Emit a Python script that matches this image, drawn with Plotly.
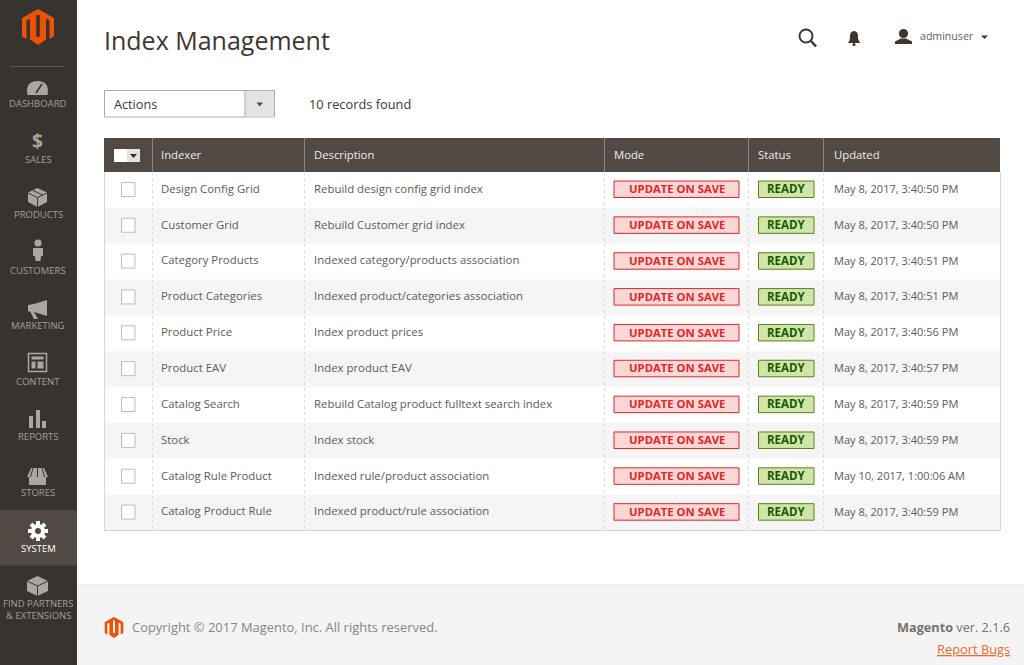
import plotly.graph_objects as go

FONT = "Open Sans"

# table contents
indexers = ["Design Config Grid", "Customer Grid", "Category Products", "Product Categories", "Product Price",
            "Product EAV", "Catalog Search", "Stock", "Catalog Rule Product", "Catalog Product Rule"]
descriptions = ["Rebuild design config grid index", "Rebuild Customer grid index",
                "Indexed category/products association", "Indexed product/categories association",
                "Index product prices", "Index product EAV", "Rebuild Catalog product fulltext search index",
                "Index stock", "Indexed rule/product association", "Indexed product/rule association"]
modes = ["UPDATE ON SAVE"] * 10
statuses = ["READY"] * 10
updated = ["May 8, 2017, 3:40:50 PM", "May 8, 2017, 3:40:50 PM", "May 8, 2017, 3:40:51 PM", "May 8, 2017, 3:40:51 PM",
           "May 8, 2017, 3:40:56 PM", "May 8, 2017, 3:40:57 PM", "May 8, 2017, 3:40:59 PM", "May 8, 2017, 3:40:59 PM",
           "May 10, 2017, 1:00:06 AM", "May 8, 2017, 3:40:59 PM"]
headers = ["Indexer", "Description", "Mode", "Status", "Updated"]
nav_labels = ["DASHBOARD", "SALES", "PRODUCTS", "CUSTOMERS", "MARKETING", "CONTENT", "REPORTS", "STORES", "SYSTEM"]

# page geometry, in screen pixels
W, H = 1024, 665
COLS = [104, 152, 304, 604, 748, 823, 1000]
HEAD_TOP, HEAD_BOTTOM = 138, 172
ROW_H = 35.85
SIDE = "#373330"
ACTIVE = "#514943"
ICON = "#aaa6a0"
NAV_TEXT = "#a39f9a"
ORANGE = "#eb5202"

shapes = []
annotations = []


def rect(x0, y0, x1, y1, fill=None, line=None, width=1, dash=None):
    shapes.append(dict(type="rect", x0=x0, y0=y0, x1=x1, y1=y1, fillcolor=fill or "rgba(0,0,0,0)",
                       line=dict(color=line or "rgba(0,0,0,0)", width=width if line else 0, dash=dash)))


def seg(x0, y0, x1, y1, color, width=1, dash=None):
    shapes.append(dict(type="line", x0=x0, y0=y0, x1=x1, y1=y1, line=dict(color=color, width=width, dash=dash)))


def path(d, fill, line=None, width=0):
    shapes.append(dict(type="path", path=d, fillcolor=fill,
                       line=dict(color=line or "rgba(0,0,0,0)", width=width)))


def circle(cx, cy, r, fill=None, line=None, width=0):
    shapes.append(dict(type="circle", x0=cx - r, y0=cy - r, x1=cx + r, y1=cy + r, fillcolor=fill or "rgba(0,0,0,0)",
                       line=dict(color=line or "rgba(0,0,0,0)", width=width)))


def logo(cx, cy, s, bg):
    # outer hexagon with slots cut by drawing over it in the background colour
    def p(pts):
        return "M" + " L".join(f"{cx + a * s:.1f} {cy + b * s:.1f}" for a, b in pts) + " Z"
    path(p([(0, -18), (16, -9), (16, 9.5), (11.5, 12), (11.5, -6.5), (8, -8.5), (8, 12.5), (0, 18), (-8, 12.5),
            (-8, -8.5), (-11.5, -6.5), (-11.5, 12), (-16, 9.5), (-16, -9)]), ORANGE)
    path(p([(-1.8, -12), (1.8, -12), (1.8, 9), (0, 10.5), (-1.8, 9)]), bg)


def text(x, y, label, size, color, anchor="left", bold=False):
    annotations.append(dict(x=x, y=y, text=label, xref="x", yref="y", showarrow=False, xanchor=anchor,
                            yanchor="middle", borderpad=0, borderwidth=0,
                            font=dict(family=FONT, size=size, color=color, weight=700 if bold else 400)))


# background panels
rect(0, 0, 77, H, SIDE)
rect(77, 585, W, H, "#f4f4f4")
seg(77, 585, W, 585, "#e3e3e3")
rect(0, 510, 77, 565.5, ACTIVE)
seg(10, 66.5, 64, 66.5, "#5c5650")
logo(38, 27, 1, SIDE)
logo(114, 627.5, 0.58, "#f4f4f4")

# sidebar icons
path("M27.5 95 Q25 81 37.5 81 Q50 81 47.5 95 Z", ICON)
seg(36, 93, 42, 84, SIDE, 1.5)
path("M37.5 188 L47 192.5 L47 202 L37.5 207 L28 202 L28 192.5 Z", ICON)
seg(28, 193, 37.5, 197.5, SIDE)
seg(47, 193, 37.5, 197.5, SIDE)
seg(37.5, 197.5, 37.5, 207, SIDE)
seg(33, 190.5, 42.5, 195, SIDE)
circle(38, 243, 3.6, ICON)
path("M33 248 L43 248 L43 256 L41 256 L40.5 261 L35.5 261 L35 256 L33 256 Z", ICON)
path("M34 304 L47 300 L47 316 L34 312 L38 319 L34 319 L30.5 312 L28 311 L28 305 Z", ICON)
rect(28.5, 353.5, 46.5, 371.5, None, ICON, 1.5)
rect(31.5, 356.5, 43.5, 359.5, ICON)
rect(31.5, 361.5, 35.5, 368.5, ICON)
rect(37.5, 361.5, 43.5, 368.5, ICON)
rect(29, 416, 33, 428, ICON)
rect(36, 410, 40, 428, ICON)
rect(42, 421, 46, 428, ICON)
path("M31 468 L44 468 L48 477 L27 477 Z", ICON)
seg(33, 468, 30.5, 477, SIDE)
seg(37.5, 468, 37.5, 477, SIDE)
seg(42, 468, 44.5, 477, SIDE)
rect(29, 477, 46, 485, ICON)
path("M37.5 576 L48 581 L48 591 L37.5 596 L27 591 L27 581 Z", ICON)
path("M27 581 L37.5 586 L48 581", "rgba(0,0,0,0)", SIDE, 1)
seg(37.5, 586, 37.5, 596, SIDE)
for a, b, c, d in [(38, 521, 38, 541), (28, 531, 48, 531), (31, 524, 45, 538), (45, 524, 31, 538)]:
    seg(a, b, c, d, "#ffffff", 4)
circle(38, 531, 7, "#ffffff")
circle(38, 531, 3, ACTIVE)

# top right icons
circle(806, 36, 6.5, None, "#41362f", 2)
seg(811, 41, 816, 46.5, "#41362f", 2.5)
path("M848 43 Q850.5 40 850 36 Q850 31.5 854 31 Q858 31.5 858 36 Q857.5 40 860.5 43 Z", "#41362f")
circle(854, 44.5, 1.6, "#41362f")
circle(903.5, 33.5, 4.6, "#41362f")
path("M895 44 L895 41.5 L901 38.5 L906 38.5 L912 41.5 L912 44 Z", "#41362f")
path("M981 35.5 L988 35.5 L984.5 39 Z", "#41362f")

# actions dropdown
rect(104.5, 90.5, 274.5, 117, "#ffffff", "#adadad")
rect(245, 91, 274, 116.5, "#e3e3e3")
seg(245, 90.5, 245, 117, "#adadad")
path("M256.5 102.5 L263 102.5 L259.7 106.5 Z", "#514943")

# table header and rows
rect(COLS[0], HEAD_TOP, COLS[-1], HEAD_BOTTOM, ACTIVE)
for x in COLS[1:-1]:
    seg(x + 0.5, HEAD_TOP, x + 0.5, HEAD_BOTTOM, "#8a837e")
rect(114, 149, 127, 162, "#ffffff")
rect(127, 149, 140, 162, "#e3e3e3")
path("M130 154 L137 154 L133.5 158 Z", "#303030")

row_y = [HEAD_BOTTOM + ROW_H * (i + 0.5) for i in range(len(indexers))]
table_bottom = HEAD_BOTTOM + ROW_H * len(indexers)
for i, y in enumerate(row_y):
    if i % 2:
        rect(COLS[0], y - ROW_H / 2, COLS[-1], y + ROW_H / 2, "#f5f5f5")
for x in COLS[1:-1]:
    seg(x + 0.5, HEAD_BOTTOM, x + 0.5, table_bottom, "#dcdcdc", 1, "3px,3px")
seg(104.5, HEAD_BOTTOM, 104.5, table_bottom, "#d6d6d6")
seg(1000.5, HEAD_BOTTOM, 1000.5, table_bottom, "#d6d6d6")
seg(104, table_bottom, 1000, table_bottom, "#d6d6d6")
for y in row_y:
    rect(121.5, y - 7.5, 135, y + 6.5, "#ffffff", "#bdbdbd")
    rect(614, y - 8.9, 739, y + 7.6, "#fad7d7", "#e22626")
    rect(758.5, y - 8.9, 814, y + 7.6, "#d0e5a9", "#5b8116")

# texts
nav_y = [103.5, 159.5, 214.5, 270.5, 325.5, 381.5, 436.5, 492.5, 548.5]
for label, y in zip(nav_labels, nav_y):
    text(38, y, label, 9.5, "#ffffff" if label == "SYSTEM" else NAV_TEXT, "center")
text(38, 603.5, "FIND PARTNERS", 9.5, NAV_TEXT, "center")
text(38, 615.5, "&amp; EXTENSIONS", 9.5, NAV_TEXT, "center")
text(37.5, 140.5, "$", 19, ICON, "center", True)

text(104, 40, "Index Management", 25, "#41362f")
text(920, 35.5, "adminuser", 10.6, "#676056")
text(114, 103.5, "Actions", 12.7, "#41362f")
text(309, 103.5, "10 records found", 12.8, "#41362f")
for label, x in zip(headers, [161, 314, 614, 758, 834]):
    text(x, 154.3, label, 11.3, "#f0eeec")
for i, y in enumerate(row_y):
    text(161, y - 1.7, indexers[i], 11.4, "#5f5a56")
    text(314, y - 1.7, descriptions[i], 11.4, "#5f5a56")
    text(676.5, y - 1.2, modes[i], 11.3, "#e22626", "center", True)
    text(786, y - 1.2, statuses[i], 11.5, "#185b00", "center", True)
    text(834, y - 1.5, updated[i], 11.05, "#5f5a56")
text(132, 627, "Copyright © 2017 Magento, Inc. All rights reserved.", 12.95, "#8a8580")
text(1010, 627, "<b>Magento</b> ver. 2.1.6", 12.7, "#76716c", "right")
text(1010, 649, "<u>Report Bugs</u>", 12.85, "#f26a2e", "right")

fig = go.Figure()
fig.update_layout(
    width=W, height=H, margin=dict(l=0, r=0, t=0, b=0),
    paper_bgcolor="#ffffff", plot_bgcolor="#ffffff", shapes=shapes, annotations=annotations,
    xaxis=dict(range=[0, W], visible=False, fixedrange=True),
    yaxis=dict(range=[H, 0], visible=False, fixedrange=True),
)
fig.write_html("out.html", config=dict(displayModeBar=False),
               post_script="document.body.style.margin='0';document.body.style.overflow='hidden';")
